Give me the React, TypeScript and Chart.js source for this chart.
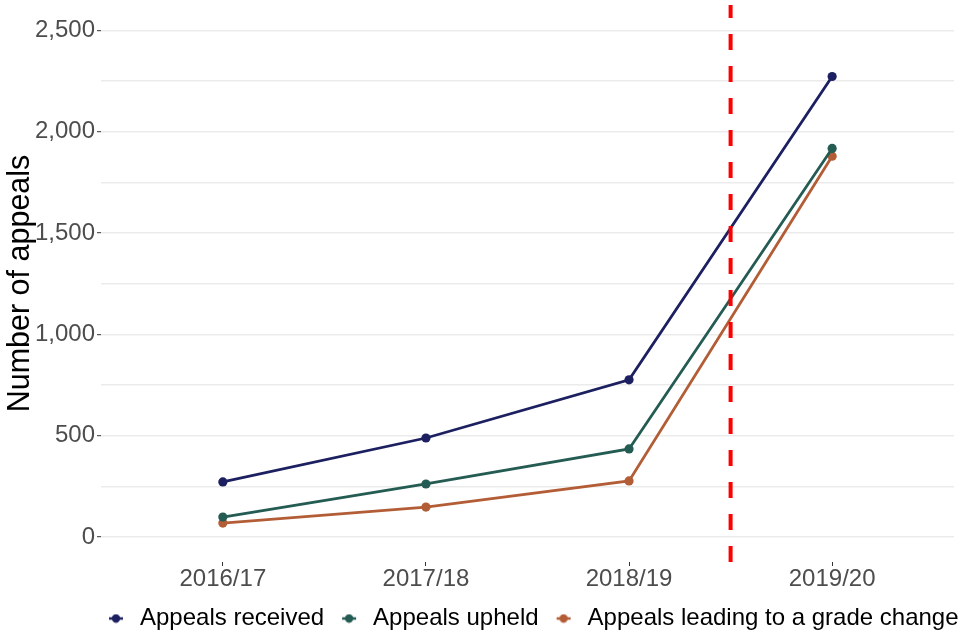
import React, { useEffect, useRef } from "react";
import { Chart, registerables } from "chart.js";

Chart.register(...registerables);

const categories = ["2016/17", "2017/18", "2018/19", "2019/20"];
const appealsReceived = [272, 489, 776, 2273];
const appealsUpheld = [99, 262, 435, 1918];
const appealsGradeChange = [69, 148, 277, 1880];
const seriesNames = ["Appeals received", "Appeals upheld", "Appeals leading to a grade change"];
const seriesColors = ["#1c2060", "#245b53", "#b35d36"];
const yTickValues = [0, 250, 500, 750, 1000, 1250, 1500, 1750, 2000, 2250, 2500];
const cutoffPosition = 2.5;

const FONT = "'Liberation Sans', Arial, sans-serif";

function makeLegendImage(color: string): HTMLCanvasElement {
  const c = document.createElement("canvas");
  c.width = 16;
  c.height = 10;
  const g = c.getContext("2d")!;
  g.strokeStyle = color;
  g.lineWidth = 2.5;
  g.beginPath();
  g.moveTo(1, 5);
  g.lineTo(15, 5);
  g.stroke();
  g.fillStyle = color;
  g.beginPath();
  g.arc(8, 5, 4.2, 0, Math.PI * 2);
  g.fill();
  return c;
}

export default function App() {
  const ref = useRef<HTMLCanvasElement | null>(null);

  useEffect(() => {
    if (!ref.current) return;
    const series = [appealsReceived, appealsUpheld, appealsGradeChange];
    const legendImages = seriesColors.map(makeLegendImage);

    const cutoffPlugin = {
      id: "cutoffLine",
      afterDatasetsDraw(chart: any) {
        const { ctx, chartArea, scales } = chart;
        const x = scales.x.getPixelForValue(cutoffPosition);
        ctx.save();
        ctx.strokeStyle = "#ff0000";
        ctx.lineWidth = 4;
        ctx.lineCap = "butt";
        ctx.setLineDash([16, 16]);
        ctx.beginPath();
        ctx.moveTo(x, chartArea.bottom);
        ctx.lineTo(x, chartArea.top);
        ctx.stroke();
        ctx.restore();
      },
    };

    const legendPlacePlugin = {
      id: "legendPlace",
      afterLayout(chart: any) {
        const lg = chart.legend;
        if (!lg) return;
        lg.left = 91;
        lg.right = 1200;
        lg.top = 593.5;
      },
    };

    const zeroPad = (scale: any) => {
      scale.paddingTop = 0;
      scale.paddingBottom = 0;
      scale.paddingLeft = 0;
      scale.paddingRight = 0;
    };

    const chart = new Chart(ref.current, {
      type: "line",
      data: {
        datasets: series.map((vals, i) => ({
          label: seriesNames[i],
          data: vals.map((v, j) => ({ x: j, y: v })),
          borderColor: seriesColors[i],
          backgroundColor: seriesColors[i],
          pointBackgroundColor: seriesColors[i],
          pointBorderColor: seriesColors[i],
          pointRadius: 4.6,
          pointBorderWidth: 0,
          borderWidth: 2.8,
          tension: 0,
          fill: false,
        })),
      },
      options: {
        animation: false,
        responsive: false,
        layout: { padding: { top: 5, right: 6, left: 0, bottom: 0 } },
        plugins: {
          tooltip: { enabled: false },
          legend: {
            position: "bottom",
            align: "start",
            labels: {
              usePointStyle: true,
              padding: 13,
              color: "#000000",
              font: { family: FONT, size: 24, lineHeight: 1 },
              generateLabels(chart: any) {
                const items = Chart.defaults.plugins.legend.labels.generateLabels(chart);
                return items.map((it: any, i: number) => ({ ...it, pointStyle: legendImages[i] }));
              },
            },
          },
        },
        scales: {
          x: {
            type: "linear",
            min: -0.6,
            max: 3.6,
            afterBuildTicks(scale: any) {
              scale.ticks = categories.map((_, i) => ({ value: i }));
            },
            afterFit(scale: any) {
              scale.height = 31;
              zeroPad(scale);
            },
            border: { display: false },
            grid: {
              drawOnChartArea: false,
              drawTicks: true,
              tickLength: 4,
              tickColor: "#333333",
              tickWidth: 1,
            },
            ticks: {
              padding: 1,
              color: "#4d4d4d",
              font: { family: FONT, size: 24, lineHeight: 1 },
              maxRotation: 0,
              autoSkip: false,
              callback: (v: any) => categories[Math.round(Number(v))] ?? "",
            },
          },
          y: {
            type: "linear",
            min: -123,
            max: 2626,
            afterBuildTicks(scale: any) {
              scale.ticks = yTickValues.map((v) => ({ value: v }));
            },
            afterFit(scale: any) {
              scale.width = 101;
              zeroPad(scale);
            },
            border: { display: false },
            grid: {
              color: "#ebebeb",
              lineWidth: 1.4,
              drawTicks: true,
              tickLength: 4,
              tickWidth: 1,
              tickColor: (c: any) => (c.tick && c.tick.value % 500 === 0 ? "#333333" : "rgba(0,0,0,0)"),
            },
            ticks: {
              padding: 2,
              color: "#4d4d4d",
              font: { family: FONT, size: 24 },
              autoSkip: false,
              callback: (v: any) => (Number(v) % 500 === 0 ? Number(v).toLocaleString("en-US") : ""),
            },
            title: {
              display: true,
              text: "Number of appeals",
              color: "#000000",
              font: { family: FONT, size: 30.5, lineHeight: 1.2 },
              padding: { top: 2, bottom: 0 },
            },
          },
        },
      } as any,
      plugins: [cutoffPlugin, legendPlacePlugin],
    });

    return () => chart.destroy();
  }, []);

  return (
    <div style={{ position: "absolute", left: 0, top: 0, width: 960, height: 640, background: "#ffffff", overflow: "hidden" }}>
      <canvas ref={ref} width={960} height={640} style={{ width: 960, height: 640, display: "block" }} />
    </div>
  );
}
